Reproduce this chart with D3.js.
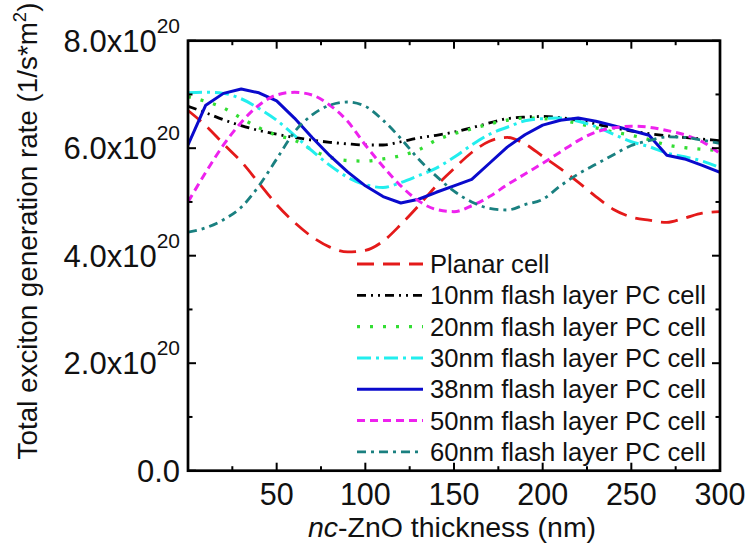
<!DOCTYPE html>
<html>
<head>
<meta charset="utf-8">
<script src="https://cdn.jsdelivr.net/npm/d3@7"></script>
<style>
  html, body { margin: 0; padding: 0; background: #fff; }
  svg { display: block; font-family: "Liberation Sans", Arial, Helvetica, sans-serif; }
</style>
</head>
<body>
<svg id="chart" width="749" height="553"></svg>
<script>
// ---- data (values in units of 1e20 1/(s*m^2)) ----
const thickness = [0,10,20,30,40,50,60,70,80,90,100,110,120,130,140,150,160,170,180,190,200,210,220,230,240,250,260,270,280,290,300];
const planar = [6.70,6.42,6.08,5.75,5.35,4.95,4.62,4.35,4.16,4.07,4.10,4.27,4.58,4.93,5.30,5.62,5.92,6.13,6.20,6.08,5.85,5.62,5.37,5.10,4.86,4.72,4.66,4.62,4.70,4.79,4.82];
const pc10 = [6.78,6.66,6.53,6.42,6.33,6.26,6.20,6.15,6.11,6.08,6.06,6.06,6.12,6.19,6.24,6.30,6.38,6.47,6.55,6.58,6.59,6.57,6.52,6.45,6.38,6.32,6.27,6.23,6.20,6.17,6.14];
const pc20 = [6.96,6.87,6.75,6.56,6.38,6.24,6.15,5.97,5.83,5.77,5.76,5.80,5.86,5.97,6.15,6.27,6.36,6.45,6.52,6.56,6.55,6.52,6.46,6.38,6.30,6.24,6.16,6.06,6.01,5.98,5.96];
const pc30 = [7.03,7.04,7.02,6.92,6.74,6.52,6.24,5.95,5.68,5.46,5.32,5.27,5.36,5.49,5.63,5.83,6.06,6.26,6.39,6.51,6.55,6.56,6.50,6.40,6.26,6.12,6.03,5.91,5.84,5.76,5.64];
const pc38 = [6.06,6.80,7.02,7.10,7.03,6.88,6.56,6.20,5.86,5.56,5.30,5.10,4.98,5.05,5.18,5.30,5.42,5.72,6.02,6.25,6.43,6.52,6.56,6.50,6.42,6.33,6.24,5.87,5.80,5.68,5.55];
const pc50 = [5.00,5.55,6.06,6.48,6.80,6.99,7.04,6.99,6.80,6.50,6.06,5.66,5.30,5.02,4.86,4.82,4.93,5.10,5.32,5.52,5.72,5.93,6.14,6.30,6.38,6.41,6.39,6.33,6.25,6.12,5.90];
const pc60 = [4.44,4.52,4.67,4.90,5.30,5.80,6.30,6.62,6.80,6.86,6.78,6.52,6.18,5.80,5.48,5.20,5.00,4.88,4.85,4.95,5.05,5.30,5.52,5.70,5.88,6.05,6.14,6.21,6.20,6.15,6.09];

const seriesNames = ["Planar cell","10nm flash layer PC cell","20nm flash layer PC cell","30nm flash layer PC cell","38nm flash layer PC cell","50nm flash layer PC cell","60nm flash layer PC cell"];
const seriesValues = [planar, pc10, pc20, pc30, pc38, pc50, pc60];

const xTickValues = [50,100,150,200,250,300];
const yTickValues = [0,2,4,6,8];
const yTickMantissa = ["0.0","2.0","4.0","6.0","8.0"];

// ---- styles ----
const styles = [
  {color:"#e41a1a", dash:"17,9",          width:2.8, curve:d3.curveMonotoneX},
  {color:"#000000", dash:"9,5,2,5,2,5",   width:2.8, curve:d3.curveMonotoneX},
  {color:"#33dd33", dash:"3,10",          width:3.3, curve:d3.curveMonotoneX},
  {color:"#22eeee", dash:"14,5,3,5",      width:3.0, curve:d3.curveMonotoneX},
  {color:"#0a0acc", dash:null,            width:3.0, curve:d3.curveLinear},
  {color:"#ee22ee", dash:"8,5",           width:3.0, curve:d3.curveMonotoneX},
  {color:"#1a8080", dash:"9,5,3,5",       width:2.8, curve:d3.curveMonotoneX}
];

const svg = d3.select("#chart");
const L = 188, R = 720, T = 40.7, B = 470.7;
const x = d3.scaleLinear().domain([0,300]).range([L,R]);
const y = d3.scaleLinear().domain([0,8]).range([B,T]);

svg.append("defs").append("clipPath").attr("id","clip")
  .append("rect").attr("x",L).attr("y",T).attr("width",R-L).attr("height",B-T);

const g = svg.append("g").attr("clip-path","url(#clip)");
seriesValues.forEach((vals,i)=>{
  const st = styles[i];
  const line = d3.line().x((d,j)=>x(thickness[j])).y(d=>y(d)).curve(st.curve);
  g.append("path").datum(vals)
    .attr("d",line)
    .attr("fill","none")
    .attr("stroke",st.color)
    .attr("stroke-width",st.width)
    .attr("stroke-dasharray",st.dash)
    .attr("stroke-linejoin","round");
});

// axis ticks (inward)
const xMinor = d3.range(25,300,50);
const yMinor = [1,3,5,7];
const axG = svg.append("g").attr("stroke","#000").attr("stroke-width",2);
xTickValues.concat([0]).forEach(v=>{
  axG.append("line").attr("x1",x(v)).attr("x2",x(v)).attr("y1",B).attr("y2",B-8);
  axG.append("line").attr("x1",x(v)).attr("x2",x(v)).attr("y1",T).attr("y2",T+8);
});
xMinor.forEach(v=>{
  axG.append("line").attr("x1",x(v)).attr("x2",x(v)).attr("y1",B).attr("y2",B-4.5);
  axG.append("line").attr("x1",x(v)).attr("x2",x(v)).attr("y1",T).attr("y2",T+4.5);
});
yTickValues.forEach(v=>{
  axG.append("line").attr("x1",L).attr("x2",L+8).attr("y1",y(v)).attr("y2",y(v));
  axG.append("line").attr("x1",R).attr("x2",R-8).attr("y1",y(v)).attr("y2",y(v));
});
yMinor.forEach(v=>{
  axG.append("line").attr("x1",L).attr("x2",L+4.5).attr("y1",y(v)).attr("y2",y(v));
  axG.append("line").attr("x1",R).attr("x2",R-4.5).attr("y1",y(v)).attr("y2",y(v));
});

svg.append("rect").attr("x",L).attr("y",T).attr("width",R-L).attr("height",B-T)
  .attr("fill","none").attr("stroke","#000").attr("stroke-width",2.7);

// x tick labels
svg.append("g").selectAll("text").data(xTickValues).join("text")
  .attr("x",d=>x(d)).attr("y",B+34.5)
  .attr("text-anchor","middle").attr("font-size",30.5).attr("fill","#111")
  .text(d=>d);

// y tick labels
const yl = svg.append("g").selectAll("text").data(yTickValues).join("text")
  .attr("x",180).attr("y",d=>y(d)+11)
  .attr("text-anchor","end").attr("font-size",31).attr("fill","#111");
yl.each(function(d,i){
  const t = d3.select(this);
  if (d === 0) { t.text(yTickMantissa[i]); return; }
  t.append("tspan").text(yTickMantissa[i] + "x10");
  t.append("tspan").attr("dy",-19).attr("font-size",21).text("20");
});

// y axis title
const yt = svg.append("text")
  .attr("transform","translate(37,231) rotate(-90)")
  .attr("text-anchor","middle").attr("font-size",27.8).attr("fill","#111");
yt.append("tspan").text("Total exciton generation rate (1/s*m");
yt.append("tspan").attr("dy",-11).attr("font-size",18.5).text("2");
yt.append("tspan").attr("dy",11).text(")");

// x axis title
const xt = svg.append("text").attr("x",452).attr("y",537)
  .attr("text-anchor","middle").attr("font-size",28.5).attr("fill","#111");
xt.append("tspan").attr("font-style","italic").text("nc");
xt.append("tspan").text("-ZnO thickness (nm)");

// legend
const lg = svg.append("g");
seriesNames.forEach((name,i)=>{
  const st = styles[i];
  const cy = 264 + i*31.3;
  lg.append("line").attr("x1",357).attr("x2",423).attr("y1",cy).attr("y2",cy)
    .attr("stroke",st.color).attr("stroke-width",st.width)
    .attr("stroke-dasharray",st.dash);
  lg.append("text").attr("x",430).attr("y",cy+9)
    .attr("font-size",25.6).attr("fill","#111").text(name);
});
</script>
</body>
</html>
